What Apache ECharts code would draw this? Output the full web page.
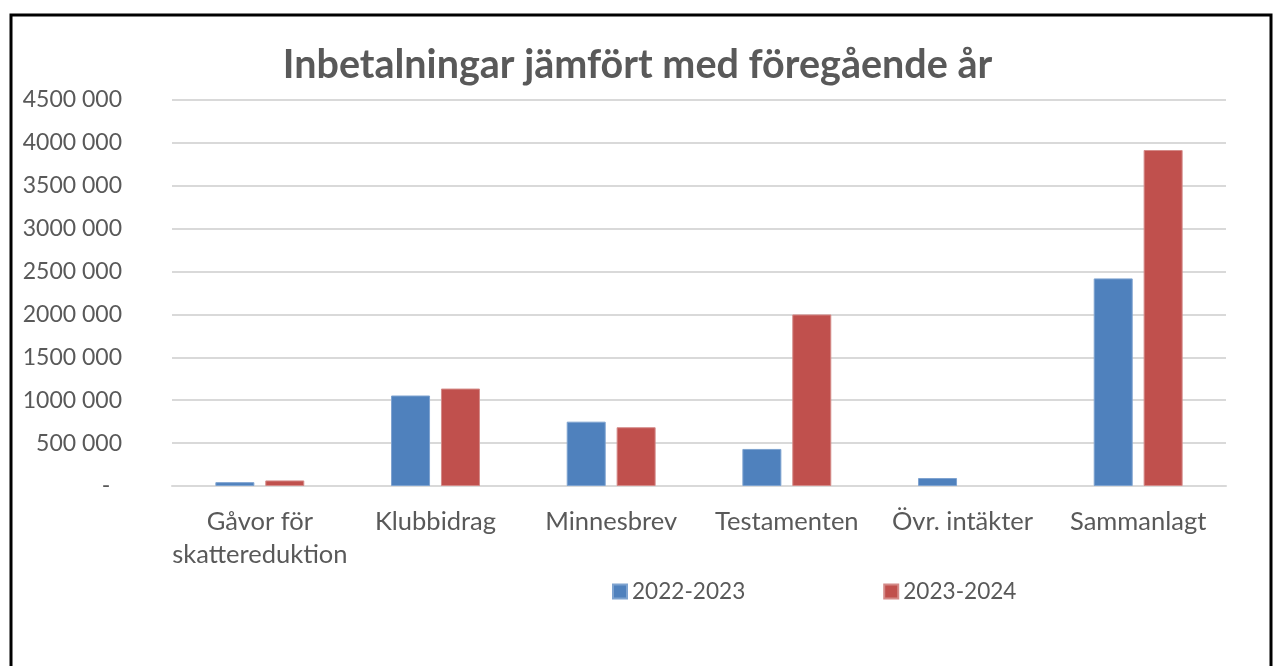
<!DOCTYPE html>
<html>
<head>
<meta charset="utf-8">
<script src="https://cdn.jsdelivr.net/npm/echarts@6/dist/echarts.min.js"></script>
<style>
  html, body { margin: 0; padding: 0; background: #fff; }
  #chart { width: 1275px; height: 666px; }
</style>
</head>
<body>
<div id="chart"></div>
<script>
// kategorier och värden
const categories = ['Gåvor för\nskattereduktion', 'Klubbidrag', 'Minnesbrev', 'Testamenten', 'Övr. intäkter', 'Sammanlagt']
const seriesNames = ['2022-2023', '2023-2024']
const values2022 = [45000, 1055000, 750000, 432000, 93000, 2420000]
const values2023 = [65000, 1136000, 685000, 2000000, null, 3917000] // ingen stapel för övr. intäkter
const yTicks = { min: 0, max: 4500000, interval: 500000 }

const fontFamily = 'Lato, "Open Sans", sans-serif'
const textColor = '#595959'

// svensk tusentalsavgränsning som i Excel-bilden, 0 visas som "-"
function fmt(v) {
  if (v === 0) return '-  '
  const k = Math.floor(v / 1000)
  const rest = String(v % 1000).padStart(3, '0')
  return k + ' ' + rest
}

const myChart = echarts.init(document.getElementById('chart'))

const option = {
  animation: false,
  backgroundColor: '#fff',
  title: {
    text: 'Inbetalningar jämfört med föregående år',
    left: 'center',
    top: 40,
    textStyle: { fontFamily, fontSize: 39.5, fontWeight: 'bold', color: textColor }
  },
  legend: {
    data: seriesNames,
    bottom: 58,
    left: 607,
    itemWidth: 14,
    itemHeight: 14,
    itemGap: 138,
    icon: 'rect',
    textStyle: { fontFamily, fontSize: 22.6, color: textColor }
  },
  grid: { left: 172, right: 49, top: 100, bottom: 180, containLabel: false },
  xAxis: {
    type: 'category',
    data: categories,
    axisLine: { lineStyle: { color: '#d9d9d9', width: 2 } },
    axisTick: { show: false },
    axisLabel: { fontFamily, fontSize: 25.5, color: textColor, margin: 19, lineHeight: 33, interval: 0 }
  },
  yAxis: {
    type: 'value',
    min: yTicks.min,
    max: yTicks.max,
    interval: yTicks.interval,
    axisLine: { show: false },
    axisTick: { show: false },
    splitLine: { lineStyle: { color: '#d9d9d9', width: 2 } },
    axisLabel: { fontFamily, fontSize: 23, color: textColor, margin: 50, formatter: fmt }
  },
  series: [
    {
      name: seriesNames[0],
      type: 'bar',
      data: values2022,
      barWidth: 39,
      barGap: '28%',
      itemStyle: { color: '#4f81bd', borderColor: '#7ea3d0', borderWidth: 1 }
    },
    {
      name: seriesNames[1],
      type: 'bar',
      data: values2023,
      barWidth: 39,
      barGap: '28%',
      itemStyle: { color: '#c0504d', borderColor: '#d48a88', borderWidth: 1 }
    }
  ],
  graphic: [
    {
      type: 'rect',
      shape: { x: 11, y: 15, width: 1260, height: 700 },
      style: { fill: 'none', stroke: '#000', lineWidth: 3 },
      silent: true
    }
  ]
}

myChart.setOption(option)
window.onresize = () => {
  myChart.resize()
}
</script>
</body>
</html>
